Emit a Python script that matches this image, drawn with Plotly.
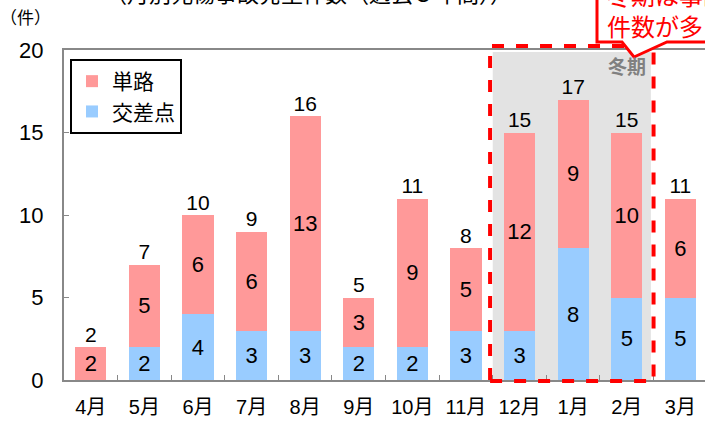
import plotly.graph_objects as go

months = ["4月", "5月", "6月", "7月", "8月", "9月", "10月", "11月", "12月", "1月", "2月", "3月"]
tanro = [2, 5, 6, 6, 13, 3, 9, 5, 12, 9, 10, 6]
kousaten = [0, 2, 4, 3, 3, 2, 2, 3, 3, 8, 5, 5]
totals = [a + b for a, b in zip(tanro, kousaten)]
y_ticks = [0, 5, 10, 15, 20]

FONT = "Liberation Sans, Arial, Noto Sans CJK JP, sans-serif"
W, H = 705, 422
ML, MR, MT, MB = 64, 0, 50, 42
X_RANGE = [-0.5, 11.46]
Y_RANGE = [0, 20]


def px(x):
    return (x - ML) / (W - ML - MR)


def py(y):
    return (H - MB - y) / (H - MT - MB)


def dx(v):
    return (v - X_RANGE[0]) / (X_RANGE[1] - X_RANGE[0])


def dy(v):
    return (v - Y_RANGE[0]) / (Y_RANGE[1] - Y_RANGE[0])


fig = go.Figure()
fig.add_trace(go.Bar(
    x=months, y=kousaten, name="交差点", marker=dict(color="#99CCFF", line=dict(width=0)),
    text=[str(v) if v else "" for v in kousaten], textposition="inside",
    insidetextanchor="middle", textangle=0, constraintext="none",
    textfont=dict(size=22, color="black", family=FONT),
))
fig.add_trace(go.Bar(
    x=months, y=tanro, name="単路", marker=dict(color="#FF9999", line=dict(width=0)),
    text=[str(v) if v else "" for v in tanro], textposition="inside",
    insidetextanchor="middle", textangle=0, constraintext="none",
    textfont=dict(size=22, color="black", family=FONT),
))
fig.add_trace(go.Scatter(
    x=months, y=totals, mode="text", text=[str(t) for t in totals],
    textposition="top center", textfont=dict(size=21, color="black", family=FONT),
    showlegend=False, cliponaxis=False, hoverinfo="skip",
))

shapes = [
    # winter shading
    dict(type="rect", xref="paper", yref="paper", x0=dx(7.5), x1=dx(10.45), y0=dy(0), y1=py(52),
         fillcolor="#E3E3E3", line=dict(width=0), layer="below"),
    # red dashed frame
    dict(type="rect", xref="paper", yref="paper", x0=dx(7.45), x1=dx(10.5), y0=py(381), y1=py(46),
         fillcolor="rgba(0,0,0,0)", line=dict(color="#FF0000", width=4, dash="dash")),
    # callout
    dict(type="path", xref="paper", yref="paper",
         path=(f"M{px(597)},{py(-10)} L{px(597)},{py(42)} L{px(622)},{py(42)} "
               f"L{px(634)},{py(57)} L{px(667)},{py(42)} L{px(712)},{py(42)} L{px(712)},{py(-10)} Z"),
         fillcolor="white", line=dict(color="#FF0000", width=3)),
]

annotations = [
    dict(text="（月別死傷事故発生件数（過去５年間））", xref="paper", yref="paper",
         x=px(308), y=py(-5), xanchor="center", yanchor="middle", showarrow=False,
         font=dict(size=22, color="black", family=FONT)),
    dict(text="（件）", xref="paper", yref="paper", x=px(25), y=py(18),
         xanchor="center", yanchor="middle", showarrow=False,
         font=dict(size=17, color="black", family=FONT)),
    dict(text="<b>冬期</b>", xref="paper", yref="paper", x=px(648), y=py(67),
         xanchor="right", yanchor="middle", showarrow=False,
         font=dict(size=19, color="#808080", family=FONT)),
    dict(text="冬期は事故<br>件数が多い", xref="paper", yref="paper", x=px(605), y=py(12),
         xanchor="left", yanchor="middle", showarrow=False, align="left",
         font=dict(size=24, color="#FF0000", family=FONT)),
]

fig.update_layout(
    width=W, height=H, barmode="stack", bargap=0.42,
    margin=dict(l=ML, r=MR, t=MT, b=MB),
    plot_bgcolor="white", paper_bgcolor="white",
    font=dict(family=FONT, color="black"),
    shapes=shapes, annotations=annotations,
    legend=dict(x=px(70), y=py(59), xanchor="left", yanchor="top",
                traceorder="reversed", bgcolor="white", bordercolor="black", borderwidth=2,
                font=dict(size=21, family=FONT), itemwidth=30, tracegroupgap=0),
    xaxis=dict(range=X_RANGE, showline=True, linecolor="#888888", linewidth=2,
               mirror=True, ticks="inside", tickson="boundaries", ticklen=5,
               tickcolor="#888888", tickfont=dict(size=20, family=FONT), fixedrange=True,
               ticklabelstandoff=8),
    yaxis=dict(range=Y_RANGE, tickvals=y_ticks, showline=True, linecolor="#888888",
               linewidth=2, showgrid=False, zeroline=False, ticks="inside", ticklen=5,
               tickcolor="#888888", tickfont=dict(size=22, family=FONT),
               ticklabelstandoff=14, fixedrange=True),
    showlegend=True,
)

fig.write_html("out.html", config={"displayModeBar": False},
               post_script="document.body.style.margin='0';document.body.style.overflow='hidden';")
